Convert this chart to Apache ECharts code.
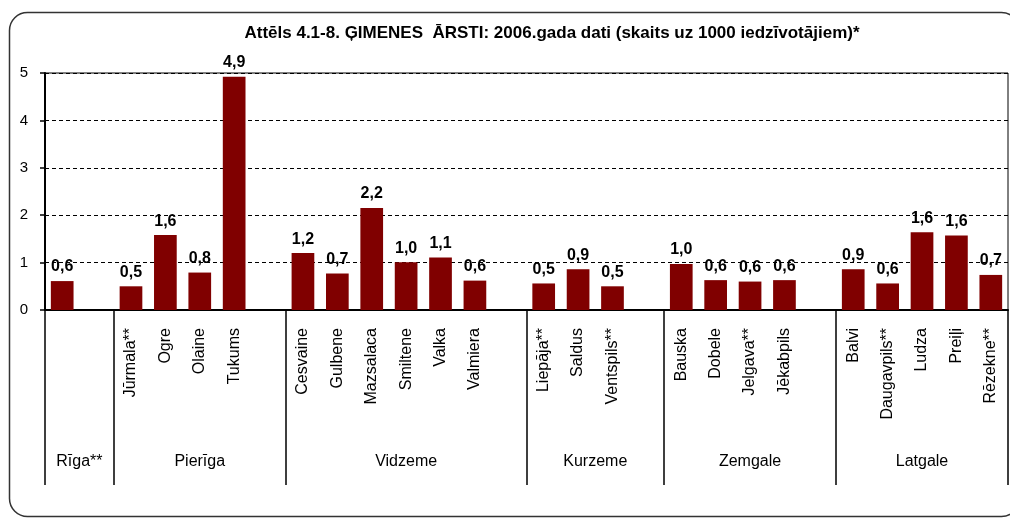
<html>
<head>
  <meta charset="utf-8">
  <title>Ģimenes ārsti 2006</title>
  <script src="https://cdn.jsdelivr.net/npm/echarts@6/dist/echarts.min.js"></script>
  <style>
    html, body { margin: 0; width: 100%; height: 100%; background: #fff; }
    #chart { width: 1010px; height: 519px; }
  </style>
</head>
<body>
  <div id="chart"></div>
  <script>
    // regions and their towns ('' = empty slot between regions)
    var regions = ['Rīga**', 'Pierīga', 'Vidzeme', 'Kurzeme', 'Zemgale', 'Latgale'];
    var towns = [
      ['Rīga**'],
      ['Jūrmala**', 'Ogre', 'Olaine', 'Tukums'],
      ['Cesvaine', 'Gulbene', 'Mazsalaca', 'Smiltene', 'Valka', 'Valmiera'],
      ['Liepāja**', 'Saldus', 'Ventspils**'],
      ['Bauska', 'Dobele', 'Jelgava**', 'Jēkabpils'],
      ['Balvi', 'Daugavpils**', 'Ludza', 'Preiļi', 'Rēzekne**']
    ];
    // bar heights
    var values = [
      [0.61],
      [0.50, 1.58, 0.79, 4.92],
      [1.20, 0.77, 2.15, 1.01, 1.11, 0.62],
      [0.56, 0.86, 0.50],
      [0.97, 0.63, 0.60, 0.63],
      [0.86, 0.56, 1.64, 1.57, 0.74]
    ];
    // printed labels
    var valueLabels = [
      ['0,6'],
      ['0,5', '1,6', '0,8', '4,9'],
      ['1,2', '0,7', '2,2', '1,0', '1,1', '0,6'],
      ['0,5', '0,9', '0,5'],
      ['1,0', '0,6', '0,6', '0,6'],
      ['0,9', '0,6', '1,6', '1,6', '0,7']
    ];

    var font = "'Liberation Sans', Arial, sans-serif";

    var cats = [], data = [], bounds = [0], centers = [];
    for (var g = 0; g < regions.length; g++) {
      var start = cats.length;
      for (var i = 0; i < towns[g].length; i++) {
        cats.push(g === 0 ? '' : towns[g][i]);
        data.push({ value: values[g][i], lbl: valueLabels[g][i] });
      }
      if (g < regions.length - 1) {
        cats.push('');
        data.push('-');
      }
      bounds.push(cats.length);
      centers.push((start + cats.length) / 2);
    }

    var chart = echarts.init(document.getElementById('chart'));
    chart.setOption({
      backgroundColor: '#fff',
      animation: false,
      title: {
        text: 'Attēls 4.1-8. ĢIMENES  ĀRSTI: 2006.gada dati (skaits uz 1000 iedzīvotājiem)*',
        left: 547, top: 20, textAlign: 'center',
        textStyle: { fontFamily: font, fontSize: 17, fontWeight: 'bold', color: '#000' }
      },
      graphic: [{
        type: 'rect', left: 7, top: 10,
        shape: { width: 1010, height: 504, r: 18 },
        style: { fill: 'none', stroke: '#333', lineWidth: 1.5 },
        z: -1
      }],
      grid: {
        left: 45, right: 2, top: 73, bottom: 209,
        show: true, borderColor: '#000', borderWidth: 1
      },
      xAxis: [{
        type: 'category',
        data: cats,
        axisLine: { lineStyle: { color: '#000', width: 2 } },
        axisTick: { show: false },
        axisLabel: {
          interval: 0, rotate: 90, margin: 18, color: '#000',
          fontFamily: font, fontSize: 16
        }
      }, {
        type: 'value', min: 0, max: cats.length,
        position: 'bottom',
        axisLine: { show: false },
        splitLine: { show: false },
        axisTick: {
          show: true, customValues: bounds, length: 175,
          lineStyle: { color: '#000', width: 1.5 }
        },
        axisLabel: {
          customValues: centers, margin: 144, color: '#000',
          fontFamily: font, fontSize: 16,
          formatter: function (v) {
            return regions[centers.indexOf(v)];
          }
        }
      }],
      yAxis: {
        type: 'value', min: 0, max: 5, interval: 1,
        axisLine: { show: true, lineStyle: { color: '#000', width: 2 } },
        axisTick: { show: true, length: 5, lineStyle: { color: '#000', width: 1.5 } },
        axisLabel: { color: '#000', fontFamily: font, fontSize: 15, margin: 17 },
        splitLine: { lineStyle: { color: '#000', type: [4, 3], width: 1 } }
      },
      series: [{
        type: 'bar',
        xAxisIndex: 0,
        data: data,
        barCategoryGap: '34%',
        itemStyle: { color: '#800000' },
        label: {
          show: true, position: 'top', distance: 6, color: '#000',
          fontFamily: font, fontSize: 16, fontWeight: 'bold',
          formatter: function (p) { return p.data.lbl; }
        }
      }]
    });
  </script>
</body>
</html>
